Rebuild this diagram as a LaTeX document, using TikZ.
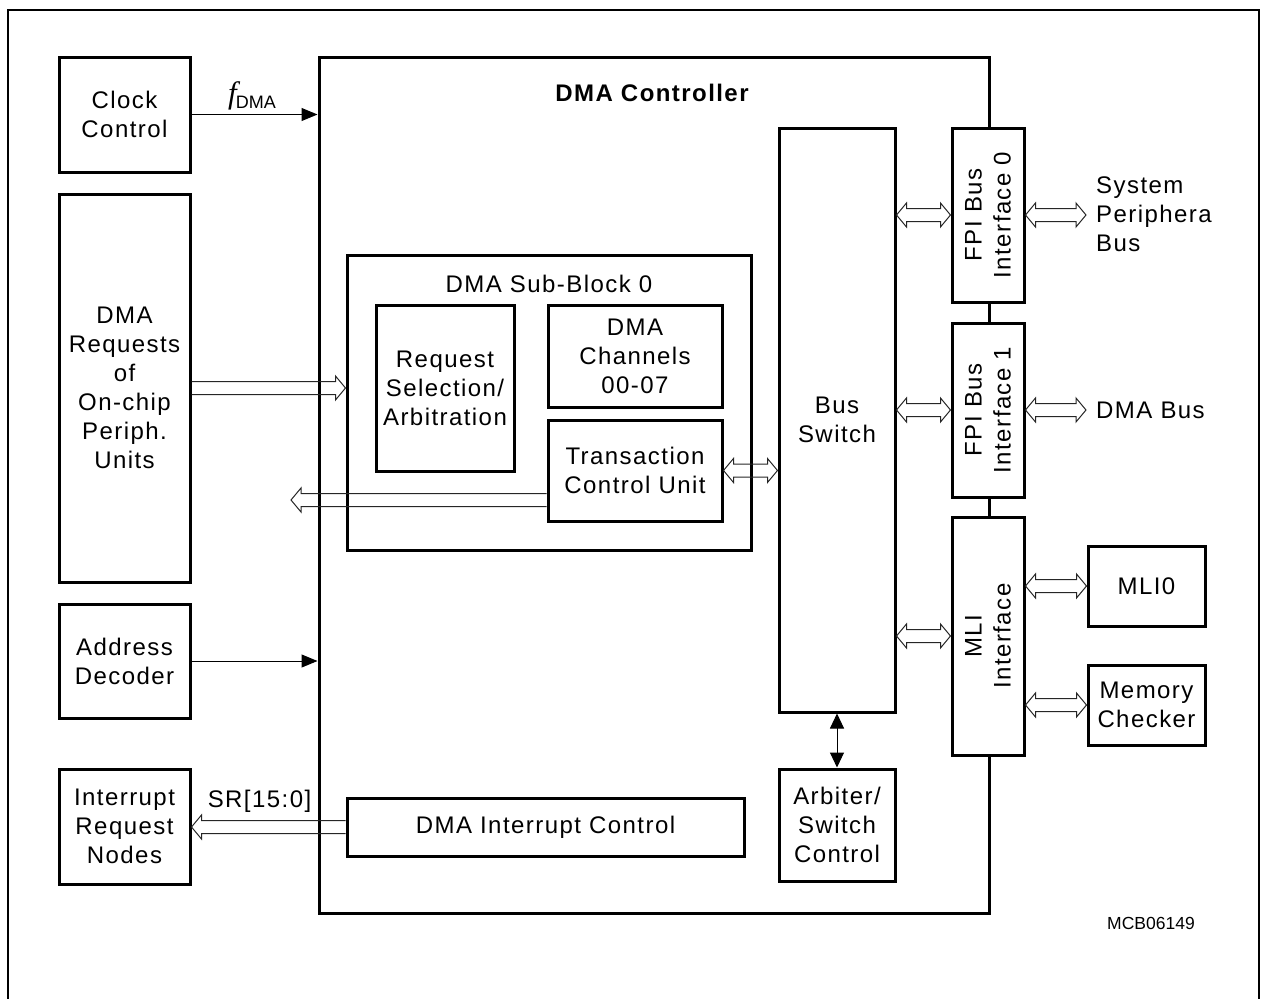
\documentclass[tikz,border=0pt]{standalone}
\usepackage{fontspec}
\setmainfont[LetterSpace=6]{Liberation Sans}
\newfontfamily\serifit{Liberation Serif}
\newfontfamily\plainsans{Liberation Sans}
\usetikzlibrary{arrows.meta,calc}
\newcommand\mainfs{\fontsize{24}{29}\selectfont}
\def\hw{6.5pt}
\def\hh{12pt}
\def\hl{10pt}
\newcommand\hsingle[2]{%
 \draw[harrow] let \p1=#1, \p2=#2, \n1={(\x2>\x1)*2-1} in
 (\x1,\y1+\hw) -- ({\x2-\n1*\hl},\y1+\hw) -- ({\x2-\n1*\hl},\y1+\hh) -- (\x2,\y1)
 -- ({\x2-\n1*\hl},\y1-\hh) -- ({\x2-\n1*\hl},\y1-\hw) -- (\x1,\y1-\hw);}
\newcommand\hdouble[2]{%
 \draw[harrow] let \p1=#1, \p2=#2, \n1={(\x2>\x1)*2-1} in
 (\x1,\y1) -- ({\x1+\n1*\hl},\y1+\hh) -- ({\x1+\n1*\hl},\y1+\hw) -- ({\x2-\n1*\hl},\y1+\hw)
 -- ({\x2-\n1*\hl},\y1+\hh) -- (\x2,\y1) -- ({\x2-\n1*\hl},\y1-\hh) -- ({\x2-\n1*\hl},\y1-\hw)
 -- ({\x1+\n1*\hl},\y1-\hw) -- ({\x1+\n1*\hl},\y1-\hh) -- cycle;}
\begin{document}
\begin{tikzpicture}[x=1pt,y=-1pt,
  blk/.style={draw, line width=3pt, fill=white, inner sep=0pt, align=center, font=\mainfs},
  lbl/.style={inner sep=0pt, align=center, font=\mainfs},
  harrow/.style={draw=black!85, line width=1pt},
  sarrow/.style={line width=1pt, -{Triangle[length=16pt,width=13pt]}},
  darrow/.style={line width=1pt, {Triangle[length=15pt,width=14pt]}-{Triangle[length=15pt,width=14pt]}}]
\useasboundingbox (0,0) rectangle (1262,999);
\clip (0,0) rectangle (1262,999);
\draw[line width=2pt] (8,10) rectangle (1259,1030);
% DMA controller
\node[draw, line width=3pt, inner sep=0pt, minimum width=670pt, minimum height=856pt] (ctrl) at (654,485) {};
\node[lbl, font=\mainfs\bfseries] (title) at (652,93) {DMA Controller};
\node[draw, line width=3pt, inner sep=0pt, minimum width=404pt, minimum height=295pt] (sub) at (549,402.5) {};
\node[lbl] (subt) at (549,284) {DMA Sub-Block 0};
% left blocks
\node[blk, minimum width=131pt, minimum height=115pt] (clock) at (124.5,114.5) {Clock\\Control};
\node[blk, minimum width=131pt, minimum height=388pt] (req) at (124.5,388) {DMA\\Requests\\of\\On-chip\\Periph.\\Units};
\node[blk, minimum width=131pt, minimum height=114pt] (addr) at (124.5,661) {Address\\Decoder};
\node[blk, minimum width=131pt, minimum height=115pt] (irq) at (124.5,826.5) {Interrupt\\Request\\Nodes};
% inner blocks
\node[blk, minimum width=138pt, minimum height=166pt] (rsel) at (445,388) {Request\\Selection/\\Arbitration};
\node[blk, minimum width=174pt, minimum height=102pt] (chan) at (635,356) {DMA\\Channels\\00-07};
\node[blk, minimum width=174pt, minimum height=101pt] (tcu) at (635,470.5) {Transaction\\Control Unit};
\node[blk, minimum width=116pt, minimum height=584pt] (bsw) at (837,420) {Bus\\Switch};
\node[blk, minimum width=116pt, minimum height=112pt] (arb) at (837,825) {Arbiter/\\Switch\\Control};
\node[blk, minimum width=397pt, minimum height=58pt] (dic) at (545.5,827) {DMA Interrupt Control};
% interfaces
\node[blk, rotate=90, minimum width=174pt, minimum height=72pt] (fpi0) at (988,215) {FPI Bus\\Interface 0};
\node[blk, rotate=90, minimum width=174pt, minimum height=72pt] (fpi1) at (988,410) {FPI Bus\\Interface 1};
\node[blk, rotate=90, minimum width=238pt, minimum height=72pt] (mli) at (988,636) {MLI\\Interface};
\node[blk, minimum width=117pt, minimum height=80pt] (mli0) at (1146.5,586) {MLI0};
\node[blk, minimum width=117pt, minimum height=80pt] (mchk) at (1146.5,705) {Memory\\Checker};
% outside labels
\node[lbl, anchor=west, align=left] (spb) at (1096,214) {System\\Periphera\\Bus};
\node[lbl, anchor=west, align=left] (dbus) at (1096,410) {DMA Bus};
\node[inner sep=0pt, font=\plainsans\fontsize{17.5}{20}\selectfont] (mcb) at (1151,923) {MCB06149};
\node[inner sep=0pt] (fdma) at (252,96) {{\fontsize{31}{31}\selectfont\serifit\itshape f}\kern-1pt\raisebox{-5pt}{\plainsans\fontsize{18}{18}\selectfont DMA}};
\node[lbl] (sr) at (259.5,801) {SR[15:0]};
% coordinates
\coordinate (tcuout) at (291,500);
\coordinate (tcutail) at (tcu.west |- tcuout);
\coordinate (spbend) at (1086,215);
\coordinate (dbusend) at (1086,410);
% connectors
\draw[sarrow] (clock.east) -- (clock.east -| ctrl.west);
\draw[sarrow] (addr.east) -- (addr.east -| ctrl.west);
\draw[darrow] (bsw.south) -- (arb.north);
\hsingle{(req.east)}{(req.east -| sub.west)}
\hsingle{(tcutail)}{(tcuout)}
\hsingle{(dic.west)}{(dic.west -| irq.east)}
\hdouble{(tcu.east)}{(tcu.east -| bsw.west)}
\hdouble{(fpi0.center -| bsw.east)}{(fpi0.north)}
\hdouble{(fpi1.center -| bsw.east)}{(fpi1.north)}
\hdouble{(mli.center -| bsw.east)}{(mli.north)}
\hdouble{(fpi0.south)}{(spbend)}
\hdouble{(fpi1.south)}{(dbusend)}
\hdouble{(mli0.west -| mli.south)}{(mli0.west)}
\hdouble{(mchk.west -| mli.south)}{(mchk.west)}
\end{tikzpicture}
\end{document}
